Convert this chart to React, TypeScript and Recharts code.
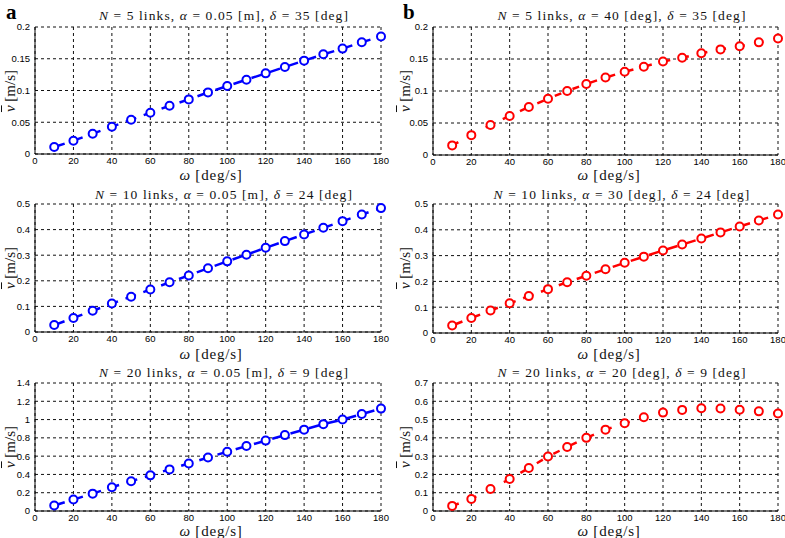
import { LineChart, Line, XAxis, YAxis, CartesianGrid } from "recharts";

const OMEGA = [10, 20, 30, 40, 50, 60, 70, 80, 90, 100, 110, 120, 130, 140, 150, 160, 170, 180];
const X_TICKS = [0, 20, 40, 60, 80, 100, 120, 140, 160, 180];

const V_A5 = [0.011, 0.021, 0.032, 0.043, 0.054, 0.065, 0.076, 0.086, 0.097, 0.107, 0.117, 0.127, 0.137, 0.147, 0.157, 0.166, 0.176, 0.185];
const V_B5 = [0.015, 0.031, 0.047, 0.061, 0.075, 0.088, 0.1, 0.111, 0.121, 0.13, 0.138, 0.146, 0.152, 0.159, 0.165, 0.17, 0.176, 0.182];
const V_A10 = [0.027, 0.055, 0.083, 0.111, 0.138, 0.166, 0.194, 0.221, 0.249, 0.276, 0.302, 0.329, 0.355, 0.381, 0.407, 0.433, 0.459, 0.484];
const V_B10 = [0.029, 0.058, 0.087, 0.115, 0.143, 0.17, 0.197, 0.222, 0.247, 0.272, 0.296, 0.32, 0.343, 0.366, 0.39, 0.413, 0.436, 0.459];
const V_A20 = [0.06, 0.125, 0.19, 0.26, 0.325, 0.39, 0.455, 0.52, 0.585, 0.648, 0.71, 0.77, 0.83, 0.89, 0.95, 1.0, 1.06, 1.12];
const V_B20 = [0.028, 0.066, 0.12, 0.175, 0.235, 0.298, 0.35, 0.4, 0.445, 0.48, 0.513, 0.538, 0.553, 0.562, 0.561, 0.554, 0.545, 0.533];

const Y_TICKS_5 = [0, 0.05, 0.1, 0.15, 0.2];
const Y_TICKS_10 = [0, 0.1, 0.2, 0.3, 0.4, 0.5];
const Y_TICKS_A20 = [0, 0.2, 0.4, 0.6, 0.8, 1, 1.2, 1.4];
const Y_TICKS_B20 = [0, 0.1, 0.2, 0.3, 0.4, 0.5, 0.6, 0.7];

const serif = "'Liberation Serif', 'DejaVu Serif', serif";
const sans = "'Liberation Sans', Arial, sans-serif";
const tickStyle = { fontSize: 9.5, fill: "#000", fontFamily: sans };

interface PanelProps {
  values: number[];
  yTicks: number[];
  color: string;
  dash: string;
  left: number;
  top: number;
  width: number;
  height: number;
  margin: { top: number; right: number; left: number; bottom: number };
  yWidth: number;
  xHeight: number;
}

function Panel({ values, yTicks, color, dash, left, top, width, height, margin, yWidth, xHeight }: PanelProps) {
  const data = OMEGA.map((w, i) => ({ w, v: values[i] }));
  const yMax = yTicks[yTicks.length - 1];
  const dot = (p: any) => (
    <circle key={p.index} cx={p.cx} cy={p.cy} r={4} fill="#fff" stroke={color} strokeWidth={2} />
  );
  return (
    <div style={{ position: "absolute", left, top }}>
      <LineChart width={width} height={height} data={data} margin={margin} style={{ overflow: "visible" }}>
        <CartesianGrid stroke="#111" strokeDasharray="3 3" />
        <XAxis
          type="number"
          dataKey="w"
          domain={[0, 180]}
          ticks={X_TICKS}
          tick={tickStyle}
          tickLine={false}
          tickSize={3}
          tickMargin={0}
          height={xHeight}
          axisLine={{ stroke: "#000" }}
          interval={0}
        />
        <XAxis xAxisId="top" orientation="top" type="number" domain={[0, 180]} tick={false} tickLine={false} height={0} axisLine={{ stroke: "#000" }} />
        <YAxis
          type="number"
          domain={[0, yMax]}
          ticks={yTicks}
          tick={tickStyle}
          tickLine={false}
          tickSize={3}
          tickMargin={2}
          width={yWidth}
          axisLine={{ stroke: "#000" }}
          interval={0}
          tickFormatter={(v: number) => String(Number(v.toFixed(3)))}
        />
        <YAxis yAxisId="right" orientation="right" tick={false} tickLine={false} width={0} axisLine={{ stroke: "#000" }} />
        <Line
          type="linear"
          dataKey="v"
          stroke={color}
          strokeWidth={2.5}
          strokeDasharray={dash}
          dot={dot}
          activeDot={false}
          isAnimationActive={false}
        />
      </LineChart>
    </div>
  );
}

function Title({ n, alpha, delta, cx, cy }: { n: string; alpha: string; delta: string; cx: number; cy: number }) {
  return (
    <div
      style={{
        position: "absolute",
        left: cx - 160,
        top: cy - 7,
        width: 320,
        height: 14,
        lineHeight: "14px",
        textAlign: "center",
        fontFamily: serif,
        fontSize: 13.5,
        letterSpacing: 1.1,
        whiteSpace: "pre",
        color: "#111",
      }}
    >
      <i>N</i> = {n} links, <i>α</i> = {alpha}, <i>δ</i> = {delta} [deg]
    </div>
  );
}

function XLabel({ cx, cy }: { cx: number; cy: number }) {
  return (
    <div
      style={{
        position: "absolute",
        left: cx - 60,
        top: cy - 6,
        width: 120,
        height: 12,
        lineHeight: "12px",
        textAlign: "center",
        fontFamily: serif,
        fontSize: 15,
        letterSpacing: 0.8,
        color: "#111",
      }}
    >
      <i>ω</i> [deg/s]
    </div>
  );
}

function YLabel({ cx, cy }: { cx: number; cy: number }) {
  return (
    <div
      style={{
        position: "absolute",
        left: cx - 50,
        top: cy - 9,
        width: 100,
        height: 18,
        lineHeight: "18px",
        textAlign: "center",
        fontFamily: serif,
        fontSize: 15,
        color: "#111",
        transform: "rotate(-90deg)",
      }}
    >
      <i style={{ textDecoration: "overline", textDecorationThickness: 1 }}>v</i> [m/s]
    </div>
  );
}

const LEFT_M = (t: number) => ({ top: t, right: 14, left: 0, bottom: 0 });
const RIGHT_M = (t: number) => ({ top: t, right: 7, left: 0, bottom: 0 });

const letterStyle = {
  position: "absolute" as const,
  top: 2,
  height: 20,
  lineHeight: "20px",
  fontFamily: serif,
  fontWeight: "bold" as const,
  fontSize: 21,
};

export default function App() {
  return (
    <div style={{ position: "absolute", left: 0, top: 0, width: 785, height: 538, background: "#fff", overflow: "hidden" }}>
      <div style={{ ...letterStyle, left: 6 }}>a</div>
      <div style={{ ...letterStyle, left: 403 }}>b</div>

      <Panel values={V_A5} yTicks={Y_TICKS_5} color="#0000ff" dash="11 8" left={0} top={0} width={395} height={180} margin={LEFT_M(27)} yWidth={35} xHeight={26} />
      <Panel values={V_B5} yTicks={Y_TICKS_5} color="#ff0000" dash="7 12" left={395} top={0} width={390} height={180} margin={RIGHT_M(27)} yWidth={38} xHeight={25} />
      <Panel values={V_A10} yTicks={Y_TICKS_10} color="#0000ff" dash="11 8" left={0} top={180} width={395} height={180} margin={LEFT_M(24)} yWidth={35} xHeight={28} />
      <Panel values={V_B10} yTicks={Y_TICKS_10} color="#ff0000" dash="11 8" left={395} top={180} width={390} height={180} margin={RIGHT_M(24)} yWidth={38} xHeight={27} />
      <Panel values={V_A20} yTicks={Y_TICKS_A20} color="#0000ff" dash="11 8" left={0} top={360} width={395} height={178} margin={LEFT_M(23)} yWidth={35} xHeight={27} />
      <Panel values={V_B20} yTicks={Y_TICKS_B20} color="#ff0000" dash="7 12" left={395} top={360} width={390} height={178} margin={RIGHT_M(23)} yWidth={38} xHeight={27} />

      <Title n="5" alpha="0.05 [m]" delta="35" cx={224} cy={16} />
      <Title n="5" alpha="40 [deg]" delta="35" cx={622} cy={16} />
      <Title n="10" alpha="0.05 [m]" delta="24" cx={224} cy={195} />
      <Title n="10" alpha="30 [deg]" delta="24" cx={622} cy={195} />
      <Title n="20" alpha="0.05 [m]" delta="9" cx={224} cy={373} />
      <Title n="20" alpha="20 [deg]" delta="9" cx={622} cy={373} />

      <XLabel cx={211} cy={175} />
      <XLabel cx={609} cy={175} />
      <XLabel cx={211} cy={354} />
      <XLabel cx={609} cy={354} />
      <XLabel cx={211} cy={531} />
      <XLabel cx={609} cy={531} />

      <YLabel cx={10} cy={91} />
      <YLabel cx={405} cy={91} />
      <YLabel cx={10} cy={268} />
      <YLabel cx={405} cy={268} />
      <YLabel cx={10} cy={447} />
      <YLabel cx={405} cy={447} />
    </div>
  );
}
